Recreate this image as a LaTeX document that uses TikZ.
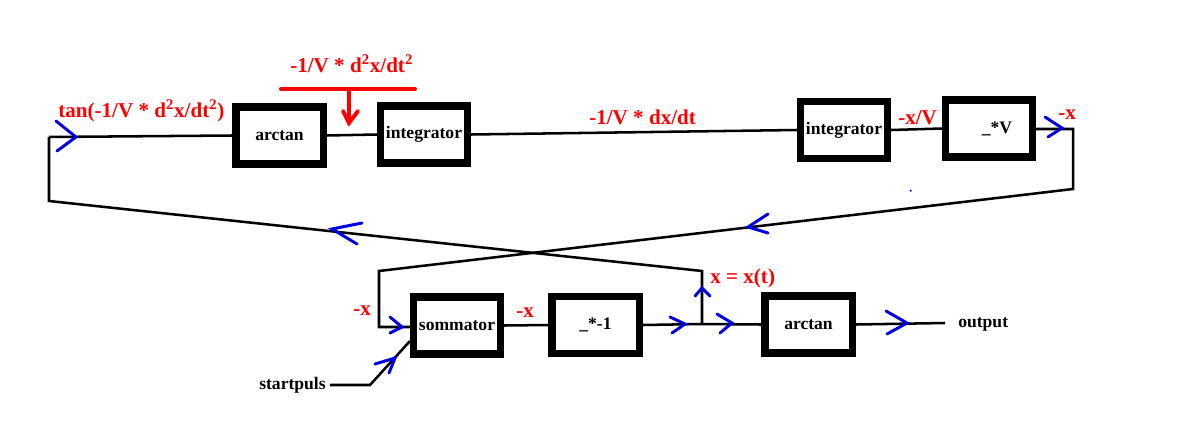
\documentclass[tikz,border=0pt]{standalone}
\usepackage{fontspec}
\setmainfont{Liberation Serif}
\begin{document}
\begin{tikzpicture}[x=0.025cm,y=-0.025cm,
  blk/.style={draw,line width=5pt,minimum width=2.175cm,minimum height=1.425cm,inner sep=0pt,font=\fontsize{12.5}{14}\selectfont\bfseries},
  conn/.style={line width=1.8pt,black},
  chevst/.style={line width=2.1pt,blue!90!black,line cap=round,line join=miter},
  redl/.style={text=red,font=\fontsize{15}{17}\selectfont\bfseries,anchor=base west,inner sep=0pt},
  blkl/.style={text=black,font=\fontsize{12.5}{14}\selectfont\bfseries,anchor=base west,inner sep=0pt},
  redarrow/.style={line width=2.8pt,red,line cap=round}]
\useasboundingbox (0,0) rectangle (1200,421);
\fill[white] (0,0) rectangle (1200,421);
% boxes
\node[blk] (arctanA) at (279.5,135.5) {arctan};
\node[blk] (intA) at (424,134.5) {integrator};
\node[blk] (intB) at (844,130) {integrator};
\node[blk] (mulV) at (989,128.5) {\hspace*{0.4cm}\_*V};
\node[blk] (somm) at (457,325.5) {sommator};
\node[blk] (neg) at (595.5,325) {\_*-1};
\node[blk] (arctanB) at (808.5,324.5) {arctan};
% coordinates
\coordinate (c1) at (49,137);
\coordinate (c2) at (49,201);
\coordinate (c3) at (702,271);
\coordinate (j) at (702,324);
\coordinate (c4) at (1073,129);
\coordinate (c5) at (1073,189);
\coordinate (c6) at (379,271);
\coordinate (c7) at (379,327);
\coordinate (sin) at (410,327);
\coordinate (c9) at (370,385);
\coordinate (c10) at (410,341);
\coordinate (outp) at (945,323);
% connectors
\draw[conn] (c1) -- (arctanA.west);
\draw[conn] (c1) -- (c2) -- (c3) -- (j);
\draw[conn] (arctanA.east) -- (intA.west);
\draw[conn] (intA.east) -- (intB.west);
\draw[conn] (intB.east) -- (mulV.west);
\draw[conn] (mulV.east |- c4) -- (c4) -- (c5) -- (c6) -- (c7) -- (sin);
\draw[conn] (somm.east) -- (neg.west);
\draw[conn] (neg.east) -- (j) -- (arctanB.west);
\draw[conn] (arctanB.east) -- (outp);
\node[blkl] (start) at (259,389) {startpuls};
\draw[conn] (start.east |- c9) ++(4,0) -- (c9) -- (c10);
\node[blkl] (out) at (958,327) {output};
% red input
\coordinate (r1) at (281,89);
\coordinate (r2) at (415,89);
\coordinate (rm) at (349,89);
\coordinate (rt) at (349,123);
\draw[redarrow] (r1) -- (r2);
\draw[redarrow] (rm) -- (rt);
\draw[redarrow,line join=miter] (343,111) -- (rt) -- (358,111);
% chevrons
\draw[chevst] (56,121) -- (76,137) -- (57,151);
\draw[chevst] (362,223) -- (332,229) -- (357,244);
\draw[chevst] (768,214) -- (748,227) -- (768,233);
\draw[chevst] (1045,117) -- (1062,128) -- (1048,137);
\draw[chevst] (390,317) -- (402,327) -- (390,333);
\draw[chevst] (375,364) -- (395,358) -- (389,373);
\draw[chevst] (670,317) -- (685,324) -- (672,333);
\draw[chevst] (717,314) -- (732,323) -- (720,333);
\draw[chevst] (695,296) -- (702,288) -- (710,296);
\draw[chevst] (886,311) -- (907,323) -- (887,334);
% stray dot
\fill[blue] (910.7,190.7) circle (1.2);
% labels
\node[redl] (l1) at (290,72) {-1/V * d\textsuperscript{2}x/dt\textsuperscript{2}};
\node[redl] (l2) at (58,117) {tan(-1/V * d\textsuperscript{2}x/dt\textsuperscript{2})};
\node[redl] (l3) at (589,124) {-1/V * dx/dt};
\node[redl] (l4) at (898,124) {-x/V};
\node[redl] (l5) at (1058,119) {-x};
\node[redl] (l6) at (710,283) {x = x(t)};
\node[redl] (l7) at (353,315) {-x};
\node[redl] (l8) at (516,317) {-x};
\end{tikzpicture}
\end{document}
